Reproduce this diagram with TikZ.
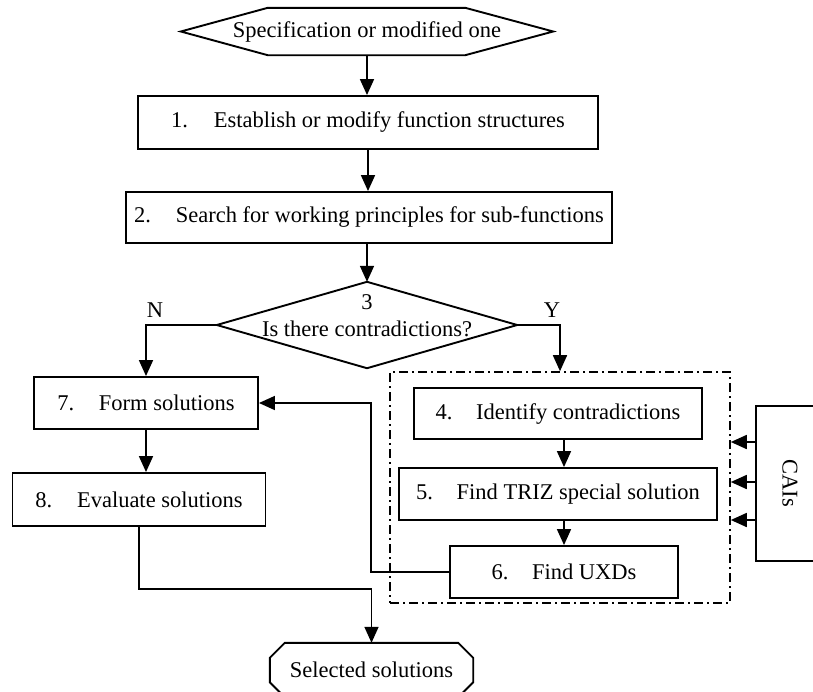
\documentclass[tikz,border=0pt]{standalone}
\usepackage{fontspec}
\setmainfont{Liberation Serif}
\usetikzlibrary{arrows.meta}
\begin{document}
\begin{tikzpicture}[x=1pt,y=-1pt,
  every node/.style={font=\fontsize{22.5}{27}\selectfont, inner sep=0pt},
  box/.style={draw, line width=1.9pt},
  hidden/.style={draw=none},
  outline/.style={line width=1.9pt, line join=miter},
  flow/.style={line width=1.7pt, -{Triangle[length=16pt,width=14pt]}},
  group/.style={draw, line width=1.6pt, dash pattern=on 9pt off 4pt on 2pt off 4pt}]
\useasboundingbox (0,0) rectangle (813,691);

% start terminal (hexagon)
\node[hidden, minimum width=372pt, minimum height=47pt] (spec) at (367,31.5) {Specification or modified one};
\draw[outline] (spec.west) -- ([xshift=87pt]spec.north west) -- ([xshift=-88pt]spec.north east)
  -- (spec.east) -- ([xshift=-88pt]spec.south east) -- ([xshift=87pt]spec.south west) -- cycle;

% main steps
\node[box, minimum width=460pt, minimum height=53pt] (s1) at (368,122.5) {1.\hspace{1.15em}Establish or modify function structures};
\node[box, minimum width=486pt, minimum height=51pt] (s2) at (369,217.5) {2.\hspace{1.1em}Search for working principles for sub-functions};

% decision
\node[hidden, minimum width=300pt, minimum height=86pt] (dec) at (367,325) {};
\draw[outline] (dec.north) -- (dec.east) -- (dec.south) -- (dec.west) -- cycle;
\node[align=center] (dectxt) at (367,316) {3\\Is there contradictions?};
\node (lblN) at (155,310) {N};
\node (lblY) at (552,310) {Y};

% left branch
\node[box, minimum width=224pt, minimum height=52pt] (s7) at (146,403) {7.\hspace{1.1em}Form solutions};
\node[box, minimum width=253pt, minimum height=53pt] (s8) at (139,499.5) {8.\hspace{1.1em}Evaluate solutions};

% right branch (TRIZ group)
\node[group, minimum width=340pt, minimum height=231pt] (grp) at (560,487.5) {};
\node[box, minimum width=288pt, minimum height=51pt] (s4) at (558,413.5) {4.\hspace{1.05em}Identify contradictions};
\node[box, minimum width=318pt, minimum height=52pt] (s5) at (558,494) {5.\hspace{1.05em}Find TRIZ special solution};
\node[box, minimum width=228pt, minimum height=52pt] (s6) at (564,572) {6.\hspace{1.05em}Find UXDs};

% CAIs block
\node[box, minimum width=78pt, minimum height=155pt] (cai) at (795,483.5) {};
\node[rotate=-90] (caitxt) at (790,483) {CAIs};

% end terminal
\node[hidden, minimum width=203pt, minimum height=54pt] (sel) at (371.5,670) {Selected solutions};
\draw[outline] ([xshift=15pt]sel.north west) -- ([xshift=-15pt]sel.north east)
  -- ([yshift=-15pt]sel.north east) -- ([yshift=15pt]sel.south east)
  -- ([xshift=-15pt]sel.south east) -- ([xshift=15pt]sel.south west)
  -- ([yshift=15pt]sel.south west) -- ([yshift=-15pt]sel.north west) -- cycle;

% connectors
\draw[flow] (spec.south) -- (spec.south |- s1.north);
\draw[flow] (s1.south) -- (s1.south |- s2.north);
\draw[flow] (dec.north |- s2.south) -- (dec.north);
\draw[flow] (dec.west) -| (s7.north);
\draw[flow] (dec.east) -| (grp.north);
\draw[flow] (s7.south) -- (s7.south |- s8.north);
\draw[flow] (s8.south) -- ++(0,62) -| (sel.north);
\draw[flow] (s6.north |- s4.south) -- (s6.north |- s5.north);
\draw[flow] (s5.south -| s6.north) -- (s6.north);
\draw[flow] (s6.west) -- ++(-78,0) |- (s7.east);

\coordinate (ca) at (0,442);
\coordinate (cb) at (0,482);
\coordinate (cc) at (0,520);
\draw[flow] (cai.west |- ca) -- (grp.east |- ca);
\draw[flow] (cai.west |- cb) -- (grp.east |- cb);
\draw[flow] (cai.west |- cc) -- (grp.east |- cc);
\end{tikzpicture}
\end{document}
